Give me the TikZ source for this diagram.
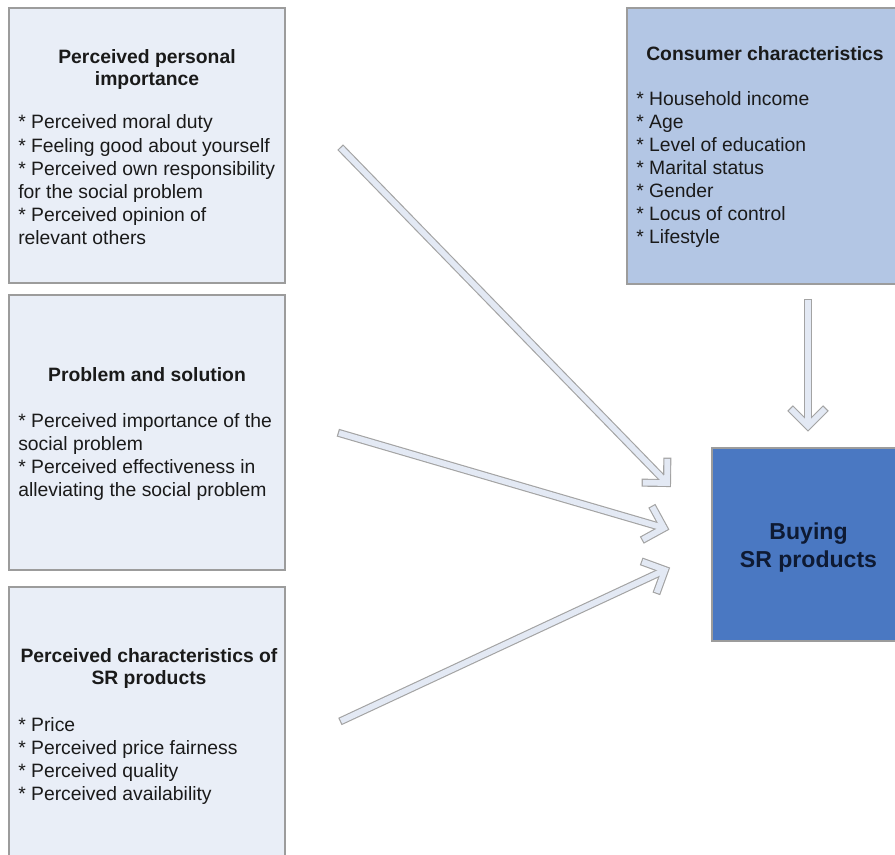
\documentclass[tikz,border=0pt]{standalone}
\usepackage{fontspec}
\setmainfont{Liberation Sans}
\usetikzlibrary{calc}
\definecolor{boxfill}{HTML}{E9EEF7}
\definecolor{consfill}{HTML}{B3C6E4}
\definecolor{buyfill}{HTML}{4A78C2}
\definecolor{edgegray}{HTML}{9C9C9C}
\definecolor{txt}{HTML}{1A1A1A}
\definecolor{buytxt}{HTML}{0E1A33}
\definecolor{arrfill}{HTML}{E3E9F4}
\definecolor{arredge}{HTML}{A3A3A3}
\newcommand\hollowarrow[2]{%
  \draw[arrout, line cap=butt] ($(#1)!-0.9pt!(#2)$) -- (#2);
  \draw[arrout] ($(#2)!16pt!45:(#1)$) -- (#2) -- ($(#2)!16pt!-45:(#1)$);
  \draw[arrin, line cap=butt] (#1) -- (#2);
  \draw[arrin] ($(#2)!16pt!45:(#1)$) -- (#2) -- ($(#2)!16pt!-45:(#1)$);
}
\begin{document}
\begin{tikzpicture}[x=0.75pt,y=-0.75pt,
  panel/.style={draw=edgegray, line width=0.8pt, inner sep=0pt, outer sep=0pt},
  bodytext/.style={font=\fontsize{14.5pt}{17.3pt}\selectfont, text=txt, inner sep=0pt, align=left, anchor=base west},
  titletext/.style={font=\fontsize{14.5pt}{16.5pt}\selectfont\bfseries, text=txt, inner sep=0pt, align=center, anchor=base},
  arrout/.style={draw=arredge, line width=6pt, line cap=rect, line join=miter},
  arrin/.style={draw=arrfill, line width=4.3pt, line cap=rect, line join=miter}]
\clip (0,0) rectangle (895,854);
\fill[white] (0,0) rectangle (895,854);
% boxes
\node[panel, fill=boxfill, minimum width=207pt, minimum height=206.25pt] (b1) at (147,145.5) {};
\node[panel, fill=boxfill, minimum width=207pt, minimum height=206.25pt] (b2) at (147,432.5) {};
\node[panel, fill=boxfill, minimum width=207pt, minimum height=206.25pt] (b3) at (147,724.5) {};
\node[panel, fill=consfill, minimum width=204pt, minimum height=207pt] (b4) at (763,146) {};
\node[panel, fill=buyfill, minimum width=140.25pt, minimum height=144.75pt] (b5) at (805.5,544.5) {};
% texts (base anchor = baseline of the last line)
\node[titletext] (t1) at (147,85) {Perceived personal\\importance};
\node[bodytext] (l1) at (18,244.3) {* Perceived moral duty\\* Feeling good about yourself\\* Perceived own responsibility\\for the social problem\\* Perceived opinion of\\relevant others};
\node[titletext] (t2) at (147,381) {Problem and solution};
\node[bodytext] (l2) at (18,496.2) {* Perceived importance of the\\social problem\\* Perceived effectiveness in\\alleviating the social problem};
\node[titletext] (t3) at (149,684) {Perceived characteristics of\\SR products};
\node[bodytext] (l3) at (18,800.2) {* Price\\* Perceived price fairness\\* Perceived quality\\* Perceived availability};
\node[titletext] (t4) at (765,60) {Consumer characteristics};
\node[bodytext] (l4) at (636,243.4) {* Household income\\* Age\\* Level of education\\* Marital status\\* Gender\\* Locus of control\\* Lifestyle};
\node[font=\fontsize{17.3pt}{21pt}\selectfont\bfseries, text=buytxt, inner sep=0pt, align=center, anchor=base] (t5) at (808.5,567) {Buying\\SR products};
% arrows
\coordinate (a1s) at (341,148);
\coordinate (a1e) at (667,483);
\coordinate (a2s) at (339,433);
\coordinate (a2e) at (664,528);
\coordinate (a3s) at (341,721);
\coordinate (a3e) at (665,570);
\coordinate (a4s) at (808,300);
\coordinate (a4e) at (808,426);
\hollowarrow{a1s}{a1e}
\hollowarrow{a2s}{a2e}
\hollowarrow{a3s}{a3e}
\hollowarrow{a4s}{a4e}
\end{tikzpicture}
\end{document}
